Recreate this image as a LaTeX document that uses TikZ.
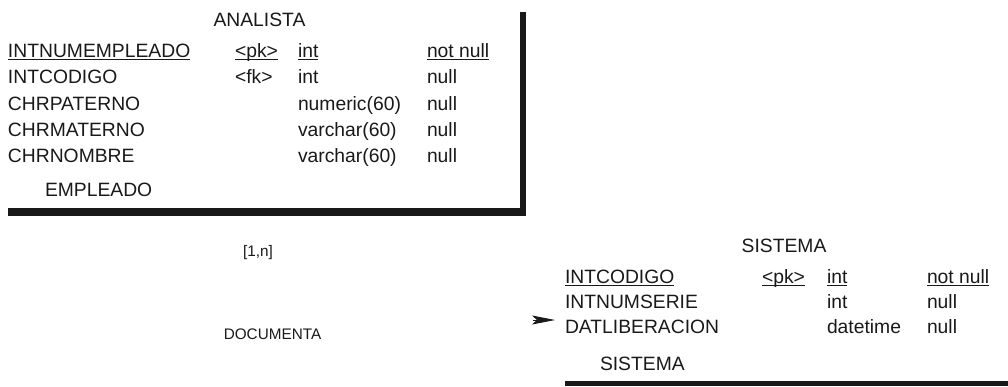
\documentclass[tikz,border=0pt]{standalone}
\usepackage{fontspec}
\setmainfont{Liberation Sans}
\usetikzlibrary{arrows.meta}
\newcommand\ulx[1]{\setbox0\hbox{#1}\rlap{\rule[-3.2pt]{\wd0}{1.5pt}}\box0}
\tikzset{
  x=1pt, y=-1pt,
  cell/.style={anchor=base west, inner sep=0pt, outer sep=0pt, font=\fontsize{19.3}{22}\selectfont, text=black!90},
  ttl/.style={anchor=base, inner sep=0pt, font=\fontsize{19.3}{22}\selectfont, text=black!90},
  small/.style={anchor=base, inner sep=0pt, font=\fontsize{15.3}{18}\selectfont, text=black!90},
  bar/.style={fill=black!90},
  arr/.style={draw=black!90, line width=0.8pt, -{Stealth[length=23pt,width=9pt,inset=5pt]}}
}
\begin{document}
\begin{tikzpicture}
\useasboundingbox (0,0) rectangle (1008,386);
% ANALISTA table
\node[ttl] (antitle) at (259.5,26) {ANALISTA};
\node[cell] (a1n) at (8,57) {\ulx{INTNUMEMPLEADO}};
\node[cell] (a1k) at (235,57) {\ulx{<pk>}};
\node[cell] (a1t) at (298,57) {\ulx{int}};
\node[cell] (a1u) at (427,57) {\ulx{not null}};
\node[cell] (a2n) at (8,83.5) {INTCODIGO};
\node[cell] (a2k) at (235,83.5) {<fk>};
\node[cell] (a2t) at (298,83.5) {int};
\node[cell] (a2u) at (427,83.5) {null};
\node[cell] (a3n) at (8,110) {CHRPATERNO};
\node[cell] (a3t) at (298,110) {numeric(60)};
\node[cell] (a3u) at (427,110) {null};
\node[cell] (a4n) at (8,136.5) {CHRMATERNO};
\node[cell] (a4t) at (298,136.5) {varchar(60)};
\node[cell] (a4u) at (427,136.5) {null};
\node[cell] (a5n) at (8,162.5) {CHRNOMBRE};
\node[cell] (a5t) at (298,162.5) {varchar(60)};
\node[cell] (a5u) at (427,162.5) {null};
\node[cell] (afoot) at (45,196) {EMPLEADO};
\fill[bar] (8,208) rectangle (526,216);
\fill[bar] (520,12) rectangle (526,216);
% relationship labels
\node[small] (card) at (258,256) {[1,n]};
\node[small] (rel) at (272.5,339) {DOCUMENTA};
% SISTEMA table
\node[ttl] (sititle) at (784,252) {SISTEMA};
\node[cell] (s1n) at (565,283) {\ulx{INTCODIGO}};
\node[cell] (s1k) at (762,283) {\ulx{<pk>}};
\node[cell] (s1t) at (827,283) {\ulx{int}};
\node[cell] (s1u) at (927,283) {\ulx{not null}};
\node[cell] (s2n) at (565,308) {INTNUMSERIE};
\node[cell] (s2t) at (827,308) {int};
\node[cell] (s2u) at (927,308) {null};
\node[cell] (s3n) at (565,333) {DATLIBERACION};
\node[cell] (s3t) at (827,333) {datetime};
\node[cell] (s3u) at (927,333) {null};
\node[cell] (sfoot) at (600,370) {SISTEMA};
\fill[bar] (565,381) rectangle (1008,386);
% arrow
\coordinate (atail) at (533,320);
\coordinate (atip) at (555,320);
\draw[arr] (atail) -- (atip);
\end{tikzpicture}
\end{document}
